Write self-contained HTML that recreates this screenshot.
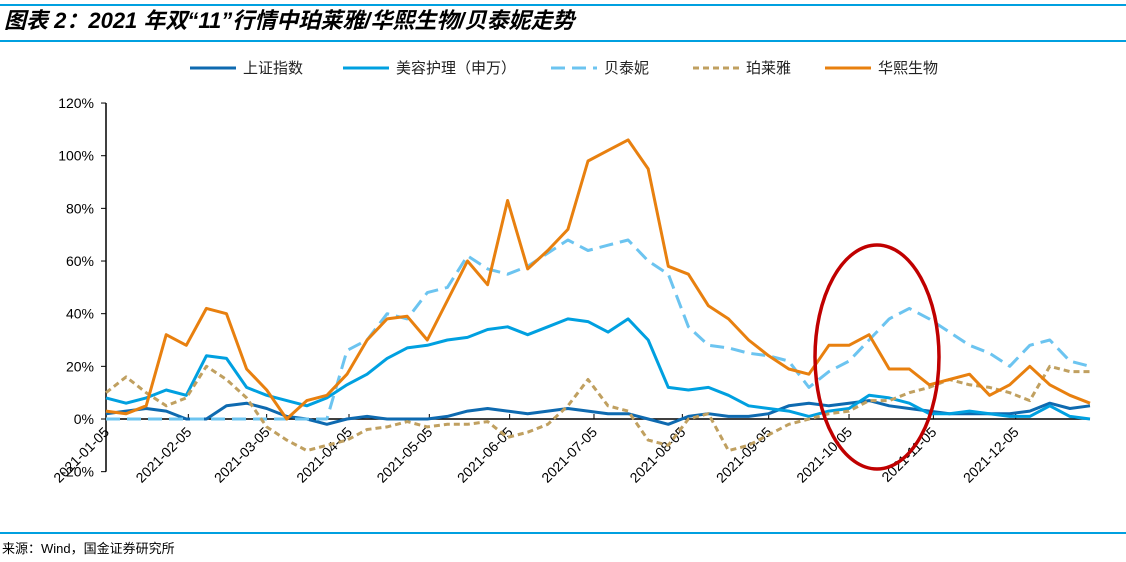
<!DOCTYPE html>
<html><head><meta charset="utf-8"><style>
body{margin:0;background:#fff;}
svg{display:block;font-family:"Liberation Sans","Noto Sans CJK SC",sans-serif;}
</style></head><body>
<svg width="1126" height="562" viewBox="0 0 1126 562">
<line x1="0" y1="5" x2="1126" y2="5" stroke="#00a0e0" stroke-width="2"/>
<text x="4" y="28" font-size="22" font-weight="bold" font-style="italic" fill="#000">图表 2：2021 年双“11”行情中珀莱雅/华熙生物/贝泰妮走势</text>
<line x1="0" y1="41" x2="1126" y2="41" stroke="#00a0e0" stroke-width="2"/>
<g id="legend"></g>
<g id="axes"></g>
<g id="series"></g>
<ellipse cx="877" cy="357" rx="62" ry="112" fill="none" stroke="#c00000" stroke-width="3.5"/>
<line x1="0" y1="533" x2="1126" y2="533" stroke="#00a0e0" stroke-width="2"/>
<text x="2" y="553" font-size="13" fill="#000">来源：Wind，国金证券研究所</text>
</svg>
<script>
const seriesNames=["上证指数","美容护理（申万）","贝泰妮","珀莱雅","华熙生物"];
const shanghai=[2,3,4,3,0,0,5,6,4,1,0,-2,0,1,0,0,0,1,3,4,3,2,3,4,3,2,2,0,-2,1,2,1,1,2,5,6,5,6,7,5,4,3,2,2,2,2,3,6,4,5];
const beauty=[8,6,8,11,9,24,23,12,9,7,5,8,13,17,23,27,28,30,31,34,35,32,35,38,37,33,38,30,12,11,12,9,5,4,3,1,3,4,9,8,6,2,2,3,2,1,1,5,1,0];
const botanee=[0,0,0,0,0,0,0,0,0,0,0,0,26,30,40,38,48,50,62,57,55,58,63,68,64,66,68,60,55,35,28,27,25,24,22,12,18,22,30,38,42,38,33,28,25,20,28,30,22,20];
const proya=[10,16,10,5,8,20,15,8,-3,-8,-12,-10,-8,-4,-3,-1,-3,-2,-2,-1,-7,-5,-2,5,15,5,3,-8,-10,0,2,-12,-10,-6,-2,0,2,3,7,7,10,12,15,13,12,10,7,20,18,18];
const bloomage=[3,2,5,32,28,42,40,19,11,0,7,9,17,30,38,39,30,45,60,51,83,57,64,72,98,102,106,95,58,55,43,38,30,24,19,17,28,28,32,19,19,13,15,17,9,13,20,13,9,6];
const yTicks=[-20,0,20,40,60,80,100,120];
const xTickLabels=["2021-01-05","2021-02-05","2021-03-05","2021-04-05","2021-05-05","2021-06-05","2021-07-05","2021-08-05","2021-09-05","2021-10-05","2021-11-05","2021-12-05"];
const xTickIdx=[0,4.1,8.0,12.1,16.1,20.1,24.3,28.7,33.0,37.0,41.2,45.3];

const NS="http://www.w3.org/2000/svg";
const X0=106,X1=1090,Y0=419,PX=2.633;
const N=bloomage.length;
function xs(i){return X0+i*(X1-X0)/(N-1);}
function ys(v){return Y0-v*PX;}
function mk(t,a,p){const e=document.createElementNS(NS,t);for(const k in a)e.setAttribute(k,a[k]);p.appendChild(e);return e;}
const axes=document.getElementById('axes');
const yAxis=mk('line',{x1:X0,y1:ys(120),x2:X0,y2:ys(-20),stroke:'#000','stroke-width':1.5},axes);


yTicks.forEach(v=>{
  const t=mk('line',{x1:X0-5,y1:ys(v),x2:X0,y2:ys(v),stroke:'#000','stroke-width':1},axes);
  
  
  const l=mk('text',{x:X0-12,y:ys(v)+5,'font-size':14,'text-anchor':'end',fill:'#000'},axes);
  l.textContent=v+'%';
  
  
});
const xAxis=mk('line',{x1:X0,y1:Y0,x2:X1,y2:Y0,stroke:'#000','stroke-width':1.5},axes);


xTickLabels.forEach((s,i)=>{
  const x=xs(xTickIdx[i]);
  const t=mk('line',{x1:x,y1:Y0-5,x2:x,y2:Y0,stroke:'#000','stroke-width':1},axes);
  
  
  const l=mk('text',{x:x+4,y:Y0+14,'font-size':14,'text-anchor':'end',fill:'#000',transform:'rotate(-45 '+(x+4)+' '+(Y0+14)+')'},axes);
  l.textContent=s;
  
  
});
const styles=[
 {c:'#0e6ab0',d:''},{c:'#00a0e0',d:''},{c:'#6cc4f0',d:'14 7'},{c:'#c0a060',d:'6 4'},{c:'#e8800f',d:''}];
const data=[shanghai,beauty,botanee,proya,bloomage];
const keys=['shanghai-index-line','beauty-care-line','botanee-line','proya-line','bloomage-line'];
const sg=document.getElementById('series');
data.forEach((arr,k)=>{
  const p=mk('polyline',{points:arr.map((v,i)=>xs(i).toFixed(1)+','+ys(v).toFixed(1)).join(' '),fill:'none',stroke:styles[k].c,'stroke-width':3,'stroke-linejoin':'round','stroke-dasharray':styles[k].d},sg);
  
  
});
const lg=document.getElementById('legend');
const lx=[190,343,551,693,825];
seriesNames.forEach((n,k)=>{
  const l=mk('line',{x1:lx[k],y1:68,x2:lx[k]+46,y2:68,stroke:styles[k].c,'stroke-width':3,'stroke-dasharray':styles[k].d},lg);
  
  
  const t=mk('text',{x:lx[k]+53,y:73,'font-size':15,fill:'#222'},lg);
  t.textContent=n;
  
  
});
</script>
</body></html>
